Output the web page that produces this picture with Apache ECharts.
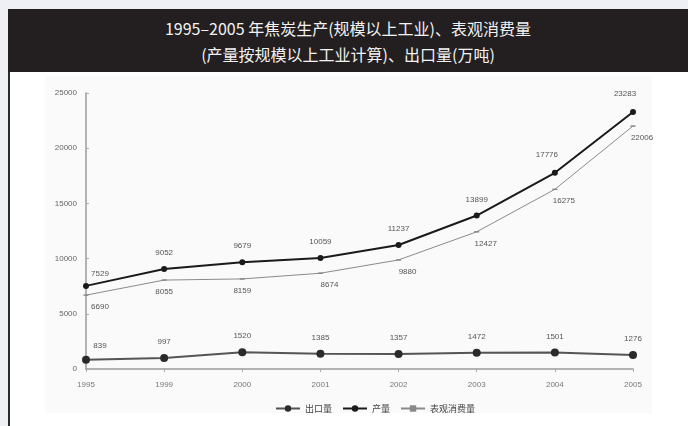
<!DOCTYPE html>
<html>
<head>
<meta charset="utf-8">
<script src="https://cdn.jsdelivr.net/npm/echarts@6/dist/echarts.min.js"></script>
<style>
  html, body { margin: 0; padding: 0; width: 688px; height: 426px; overflow: hidden; background: #eef0f3; }
  #titleBox {
    position: absolute; left: 8px; top: 9px; width: 680px; height: 63px;
    background: #231f20; color: #f2f2f2;
    font-family: "Noto Sans CJK SC", "Noto Sans", sans-serif; font-size: 16px;
    text-align: center; line-height: 26px; padding-top: 6px; box-sizing: border-box;
  }
  #panel { position: absolute; left: 8px; top: 72px; width: 680px; height: 354px; background: #ffffff; border-left: 2px solid #2a2a2a; box-sizing: border-box; }
  #plate { position: absolute; left: 45px; top: 76px; width: 607px; height: 337px; background: #fafafa; }
  #chart { position: absolute; left: 0; top: 0; width: 688px; height: 426px; }
</style>
</head>
<body>
<div id="titleBox">1995–2005 年焦炭生产(规模以上工业)、表观消费量<br>(产量按规模以上工业计算)、出口量(万吨)</div>
<div id="panel"></div>
<div id="plate"></div>
<div id="chart"></div>
<script>
// Years on the category axis
const years = ['1995', '1999', '2000', '2001', '2002', '2003', '2004', '2005'];
// Coke output of industry above designated size (10k tonnes)
const output = [7529, 9052, 9679, 10059, 11237, 13899, 17776, 23283];
// Apparent consumption (10k tonnes)
const consumption = [6690, 8055, 8159, 8674, 9880, 12427, 16275, 22006];
// Exports (10k tonnes)
const exports = [839, 997, 1520, 1385, 1357, 1472, 1501, 1276];
// Y-axis ticks
const yMin = 0, yMax = 25000, yStep = 5000;

const chart = echarts.init(document.getElementById('chart'));
const fontFam = '"Liberation Sans", "Noto Sans CJK SC", sans-serif';
const labelBase = { show: true, fontSize: 8, color: '#555', fontFamily: fontFam };

function withLabels(values, pos, tweak) {
  return values.map((v, i) => {
    const item = { value: v };
    const off = tweak(i);
    if (off) item.label = { position: pos, offset: off };
    return item;
  });
}

chart.setOption({
  animation: false,
  textStyle: { fontFamily: fontFam },
  grid: { left: 86, right: 55, top: 93, bottom: 57, containLabel: false },
  legend: {
    top: 399, left: 270, itemGap: 10, itemWidth: 24, itemHeight: 8,
    textStyle: { fontSize: 9, color: '#444', fontFamily: '"Noto Sans CJK SC", sans-serif' },
    data: ['出口量', '产量', '表观消费量']
  },
  xAxis: {
    type: 'category', data: years, boundaryGap: false,
    axisLine: { lineStyle: { color: '#9a9a9a', width: 1.5 } },
    axisTick: { show: true, length: 3, lineStyle: { color: '#aaa' } },
    axisLabel: { fontSize: 8, color: '#777', margin: 12 }
  },
  yAxis: {
    type: 'value', min: yMin, max: yMax, interval: yStep,
    axisLine: { show: true, lineStyle: { color: '#9a9a9a', width: 1.5 } },
    axisTick: { show: true, inside: true, length: 3, lineStyle: { color: '#aaa' } },
    splitLine: { show: false },
    axisLabel: { fontSize: 8, color: '#666', margin: 9, formatter: v => String(v) }
  },
  series: [
    {
      name: '出口量', type: 'line',
      data: withLabels(exports, 'top', i => i === 0 ? [14, 2] : null),
      symbol: 'circle', symbolSize: 8,
      itemStyle: { color: '#2a2a2a' },
      lineStyle: { color: '#555', width: 2 },
      label: Object.assign({}, labelBase, { position: 'top', distance: 8 })
    },
    {
      name: '产量', type: 'line',
      data: withLabels(output, 'top', i => i === 0 ? [14, 4] : (i >= 6 ? [-8, -2] : null)),
      symbol: 'circle', symbolSize: 6,
      itemStyle: { color: '#1a1a1a' },
      lineStyle: { color: '#1a1a1a', width: 2 },
      label: Object.assign({}, labelBase, { position: 'top', distance: 9 })
    },
    {
      name: '表观消费量', type: 'line',
      data: withLabels(consumption, 'bottom', i => i === 0 ? [14, 0] : (i >= 3 ? [9, 0] : null)),
      symbol: 'rect', symbolSize: [5, 1.5],
      itemStyle: { color: '#888' },
      lineStyle: { color: '#8a8a8a', width: 1 },
      label: Object.assign({}, labelBase, { position: 'bottom', distance: 7 })
    }
  ]
});
</script>
</body>
</html>
